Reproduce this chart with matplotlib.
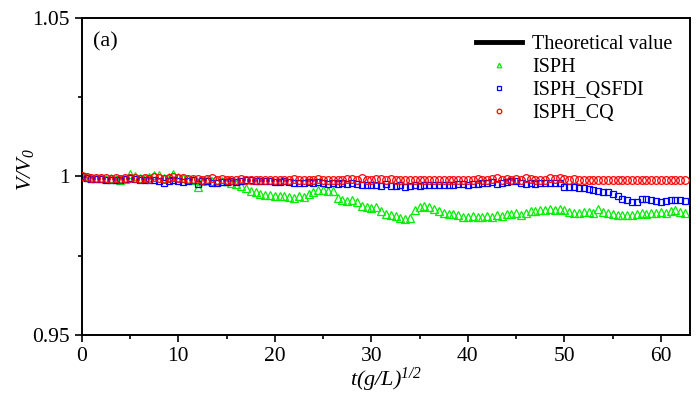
import numpy as np
import matplotlib.pyplot as plt
from matplotlib.ticker import MultipleLocator

plt.rcParams['font.family'] = 'Liberation Serif'
plt.rcParams['mathtext.fontset'] = 'custom'
# all math text in this figure is italic, digits included
plt.rcParams['mathtext.rm'] = 'Liberation Serif:italic'
plt.rcParams['mathtext.it'] = 'Liberation Serif:italic'

# time grid, step 0.5
t = np.arange(0, 63.0, 0.5)

isph = [
    1.0000, 0.9998, 0.9996, 0.9994, 0.9995, 0.9993, 0.9994, 0.9992, 0.9990, 0.9993,
    1.0008, 1.0002, 0.9996, 0.9994, 0.9999, 1.0004, 1.0003, 0.9996, 0.9998, 1.0006,
    0.9998, 0.9996, 0.9992, 0.9990, 0.9968, 0.9984, 0.9990, 0.9986, 0.9984, 0.9986,
    0.9984, 0.9978, 0.9976, 0.9970, 0.9962, 0.9955, 0.9950, 0.9946, 0.9942, 0.9940,
    0.9938, 0.9937, 0.9938, 0.9936, 0.9932, 0.9938, 0.9934, 0.9944, 0.9952, 0.9956,
    0.9957, 0.9955, 0.9954, 0.9932, 0.9926, 0.9922, 0.9925, 0.9920, 0.9908, 0.9902,
    0.9900, 0.9902, 0.9890, 0.9880, 0.9878, 0.9874, 0.9870, 0.9866, 0.9870, 0.9893,
    0.9905, 0.9908, 0.9902, 0.9898, 0.9890, 0.9884, 0.9880, 0.9881, 0.9878, 0.9872,
    0.9872, 0.9874, 0.9872, 0.9873, 0.9874, 0.9872, 0.9878, 0.9876, 0.9880, 0.9882,
    0.9885, 0.9878, 0.9884, 0.9890, 0.9892, 0.9893, 0.9895, 0.9896, 0.9894, 0.9896,
    0.9893, 0.9888, 0.9886, 0.9886, 0.9887, 0.9888, 0.9886, 0.9898, 0.9888, 0.9886,
    0.9882, 0.9878, 0.9879, 0.9878, 0.9879, 0.9880, 0.9884, 0.9882, 0.9886, 0.9885,
    0.9888, 0.9886, 0.9890, 0.9893, 0.9888, 0.9886,
]

qsfdi = [
    1.0000, 0.9996, 0.9993, 0.9992, 0.9992, 0.9990, 0.9990, 0.9988, 0.9987, 0.9992,
    0.9994, 0.9992, 0.9990, 0.9988, 0.9990, 0.9989, 0.9985, 0.9978, 0.9986, 0.9988,
    0.9986, 0.9982, 0.9984, 0.9987, 0.9975, 0.9986, 0.9984, 0.9978, 0.9978, 0.9982,
    0.9983, 0.9984, 0.9982, 0.9985, 0.9990, 0.9988, 0.9986, 0.9985, 0.9984, 0.9984,
    0.9983, 0.9982, 0.9984, 0.9982, 0.9980, 0.9978, 0.9980, 0.9983, 0.9980, 0.9982,
    0.9980, 0.9976, 0.9978, 0.9977, 0.9978, 0.9976, 0.9980, 0.9975, 0.9972, 0.9974,
    0.9974, 0.9972, 0.9970, 0.9975, 0.9970, 0.9970, 0.9972, 0.9968, 0.9970, 0.9972,
    0.9970, 0.9973, 0.9974, 0.9972, 0.9972, 0.9972, 0.9974, 0.9974, 0.9975, 0.9976,
    0.9974, 0.9976, 0.9975, 0.9978, 0.9980, 0.9982, 0.9977, 0.9978, 0.9982, 0.9984,
    0.9984, 0.9980, 0.9977, 0.9980, 0.9977, 0.9978, 0.9978, 0.9980, 0.9980, 0.9978,
    0.9968, 0.9966, 0.9965, 0.9964, 0.9962, 0.9960, 0.9958, 0.9955, 0.9950, 0.9952,
    0.9944, 0.9938, 0.9930, 0.9925, 0.9918, 0.9920, 0.9928, 0.9930, 0.9926, 0.9922,
    0.9918, 0.9923, 0.9924, 0.9924, 0.9924, 0.9922,
]

cq = [
    1.0000, 0.9997, 0.9995, 0.9996, 0.9994, 0.9995, 0.9992, 0.9995, 0.9991, 0.9994,
    0.9996, 0.9995, 0.9993, 0.9994, 0.9992, 0.9997, 0.9994, 0.9992, 0.9995, 0.9997,
    0.9996, 0.9994, 0.9992, 0.9991, 0.9993, 0.9990, 0.9992, 0.9994, 0.9990, 0.9991,
    0.9988, 0.9990, 0.9989, 0.9991, 0.9989, 0.9988, 0.9990, 0.9988, 0.9990, 0.9989,
    0.9988, 0.9990, 0.9988, 0.9989, 0.9991, 0.9988, 0.9987, 0.9990, 0.9988, 0.9992,
    0.9988, 0.9990, 0.9988, 0.9989, 0.9988, 0.9993, 0.9991, 0.9988, 0.9994, 0.9990,
    0.9988, 0.9991, 0.9993, 0.9989, 0.9991, 0.9988, 0.9987, 0.9988, 0.9990, 0.9988,
    0.9987, 0.9988, 0.9987, 0.9988, 0.9990, 0.9988, 0.9990, 0.9988, 0.9989, 0.9990,
    0.9988, 0.9990, 0.9992, 0.9988, 0.9990, 0.9992, 0.9994, 0.9990, 0.9991, 0.9988,
    0.9993, 0.9990, 0.9994, 0.9993, 0.9990, 0.9988, 0.9990, 0.9994, 0.9992, 0.9995,
    0.9993, 0.9990, 0.9991, 0.9988, 0.9990, 0.9989, 0.9989, 0.9988, 0.9989, 0.9988,
    0.9987, 0.9988, 0.9987, 0.9988, 0.9987, 0.9988, 0.9988, 0.9989, 0.9988, 0.9990,
    0.9988, 0.9990, 0.9989, 0.9988, 0.9990, 0.9987,
]

fig = plt.figure(figsize=(6.99, 4.05), dpi=100)
ax = fig.add_axes([0.117, 0.173, 0.870, 0.783])

# the theoretical line is not visible in the plot area, only in the legend
ax.plot([], [], color='black', lw=3.5, label='Theoretical value')
ax.plot(t, isph, ls='none', marker='^', ms=5.5, mfc='none', mec='#00ee00', mew=0.9,
        label='ISPH', zorder=2)
ax.plot(t, qsfdi, ls='none', marker='s', ms=5, mfc='none', mec='#0000ff', mew=0.9,
        label='ISPH_QSFDI', zorder=3)
ax.plot(t, cq, ls='none', marker='o', ms=5.5, mfc='none', mec='#ff0000', mew=0.9,
        label='ISPH_CQ', zorder=4)

ax.set_xlim(0, 63)
ax.set_ylim(0.95, 1.05)
ax.set_xticks([0, 10, 20, 30, 40, 50, 60])
ax.xaxis.set_minor_locator(MultipleLocator(5))
ax.set_yticks([0.95, 1.0, 1.05])
ax.set_yticklabels(['0.95', '1', '1.05'])
ax.yaxis.set_minor_locator(MultipleLocator(0.025))
ax.tick_params(which='major', direction='out', length=5, width=1.2, labelsize=15.5)
ax.tick_params(which='minor', direction='out', length=3, width=1.2)
for s in ax.spines.values():
    s.set_linewidth(1.4)

ax.set_xlabel(r'$t(g/L)^{1/2}$', fontsize=16, labelpad=0)
ax.set_ylabel(r'$V/V_0$', fontsize=16)
ax.yaxis.set_label_coords(-0.075, 0.52)

ax.text(0.018, 0.925, '(a)', transform=ax.transAxes, fontsize=16, va='center')

ax.legend(loc='upper right', frameon=False, fontsize=14.5, handlelength=2.3,
          markerscale=0.6, labelspacing=0.2, borderaxespad=0.45, handletextpad=0.5)

fig.savefig('out.png', dpi=100)
